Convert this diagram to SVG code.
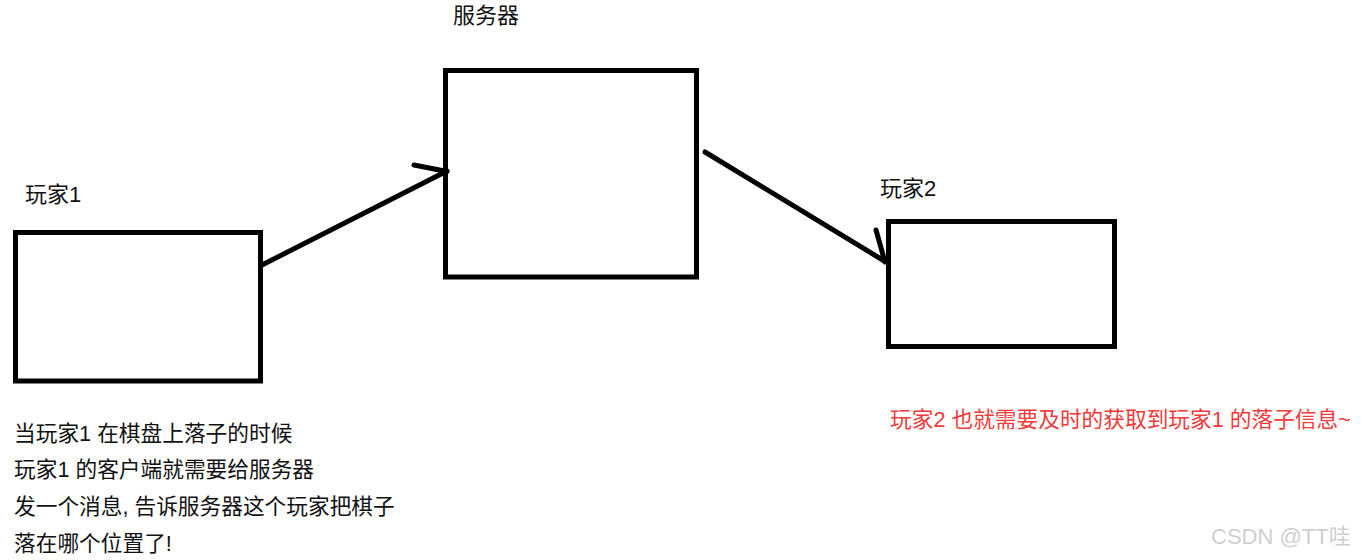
<svg xmlns="http://www.w3.org/2000/svg" width="1369" height="560" viewBox="0 0 1369 560">
<style>
.box{fill:#fff;stroke:#000;stroke-width:5}
.conn{fill:none;stroke:#000;stroke-width:5;stroke-linecap:round;stroke-linejoin:round}
text{font-family:"Liberation Sans","Noto Sans CJK SC",sans-serif;font-size:22px;fill:#111}
.note{font-size:21.7px}
.red{fill:#f23a3a;font-size:21.7px}
.wm{fill:#cfcfcf;font-size:22px}
</style>
<rect width="1369" height="560" fill="#fff"/>
<g id="server">
<rect class="box" x="445.5" y="70.5" width="251" height="206.5"/>
<text x="453" y="23">服务器</text>
</g>
<g id="player1">
<rect class="box" x="15.5" y="232.5" width="245" height="148.5"/>
<text x="25" y="202">玩家1</text>
</g>
<g id="player2">
<rect class="box" x="888.5" y="221.5" width="226" height="125"/>
<text x="880" y="196">玩家2</text>
</g>
<g id="connectors">
<path class="conn" d="M262 265 L447 171 M414 165 L447 171.5"/>
<path class="conn" d="M705 152 L886 262 M876 230 L885 262"/>
</g>
<g id="notes">
<text class="note" x="14" y="441">当玩家1 在棋盘上落子的时候</text>
<text class="note" x="14" y="477">玩家1 的客户端就需要给服务器</text>
<text class="note" x="14" y="514">发一个消息, 告诉服务器这个玩家把棋子</text>
<text class="note" x="14" y="551">落在哪个位置了!</text>
<text class="red" x="890" y="427">玩家2 也就需要及时的获取到玩家1 的落子信息~</text>
<text class="wm" x="1211" y="544">CSDN @TT哇</text>
</g>
</svg>
